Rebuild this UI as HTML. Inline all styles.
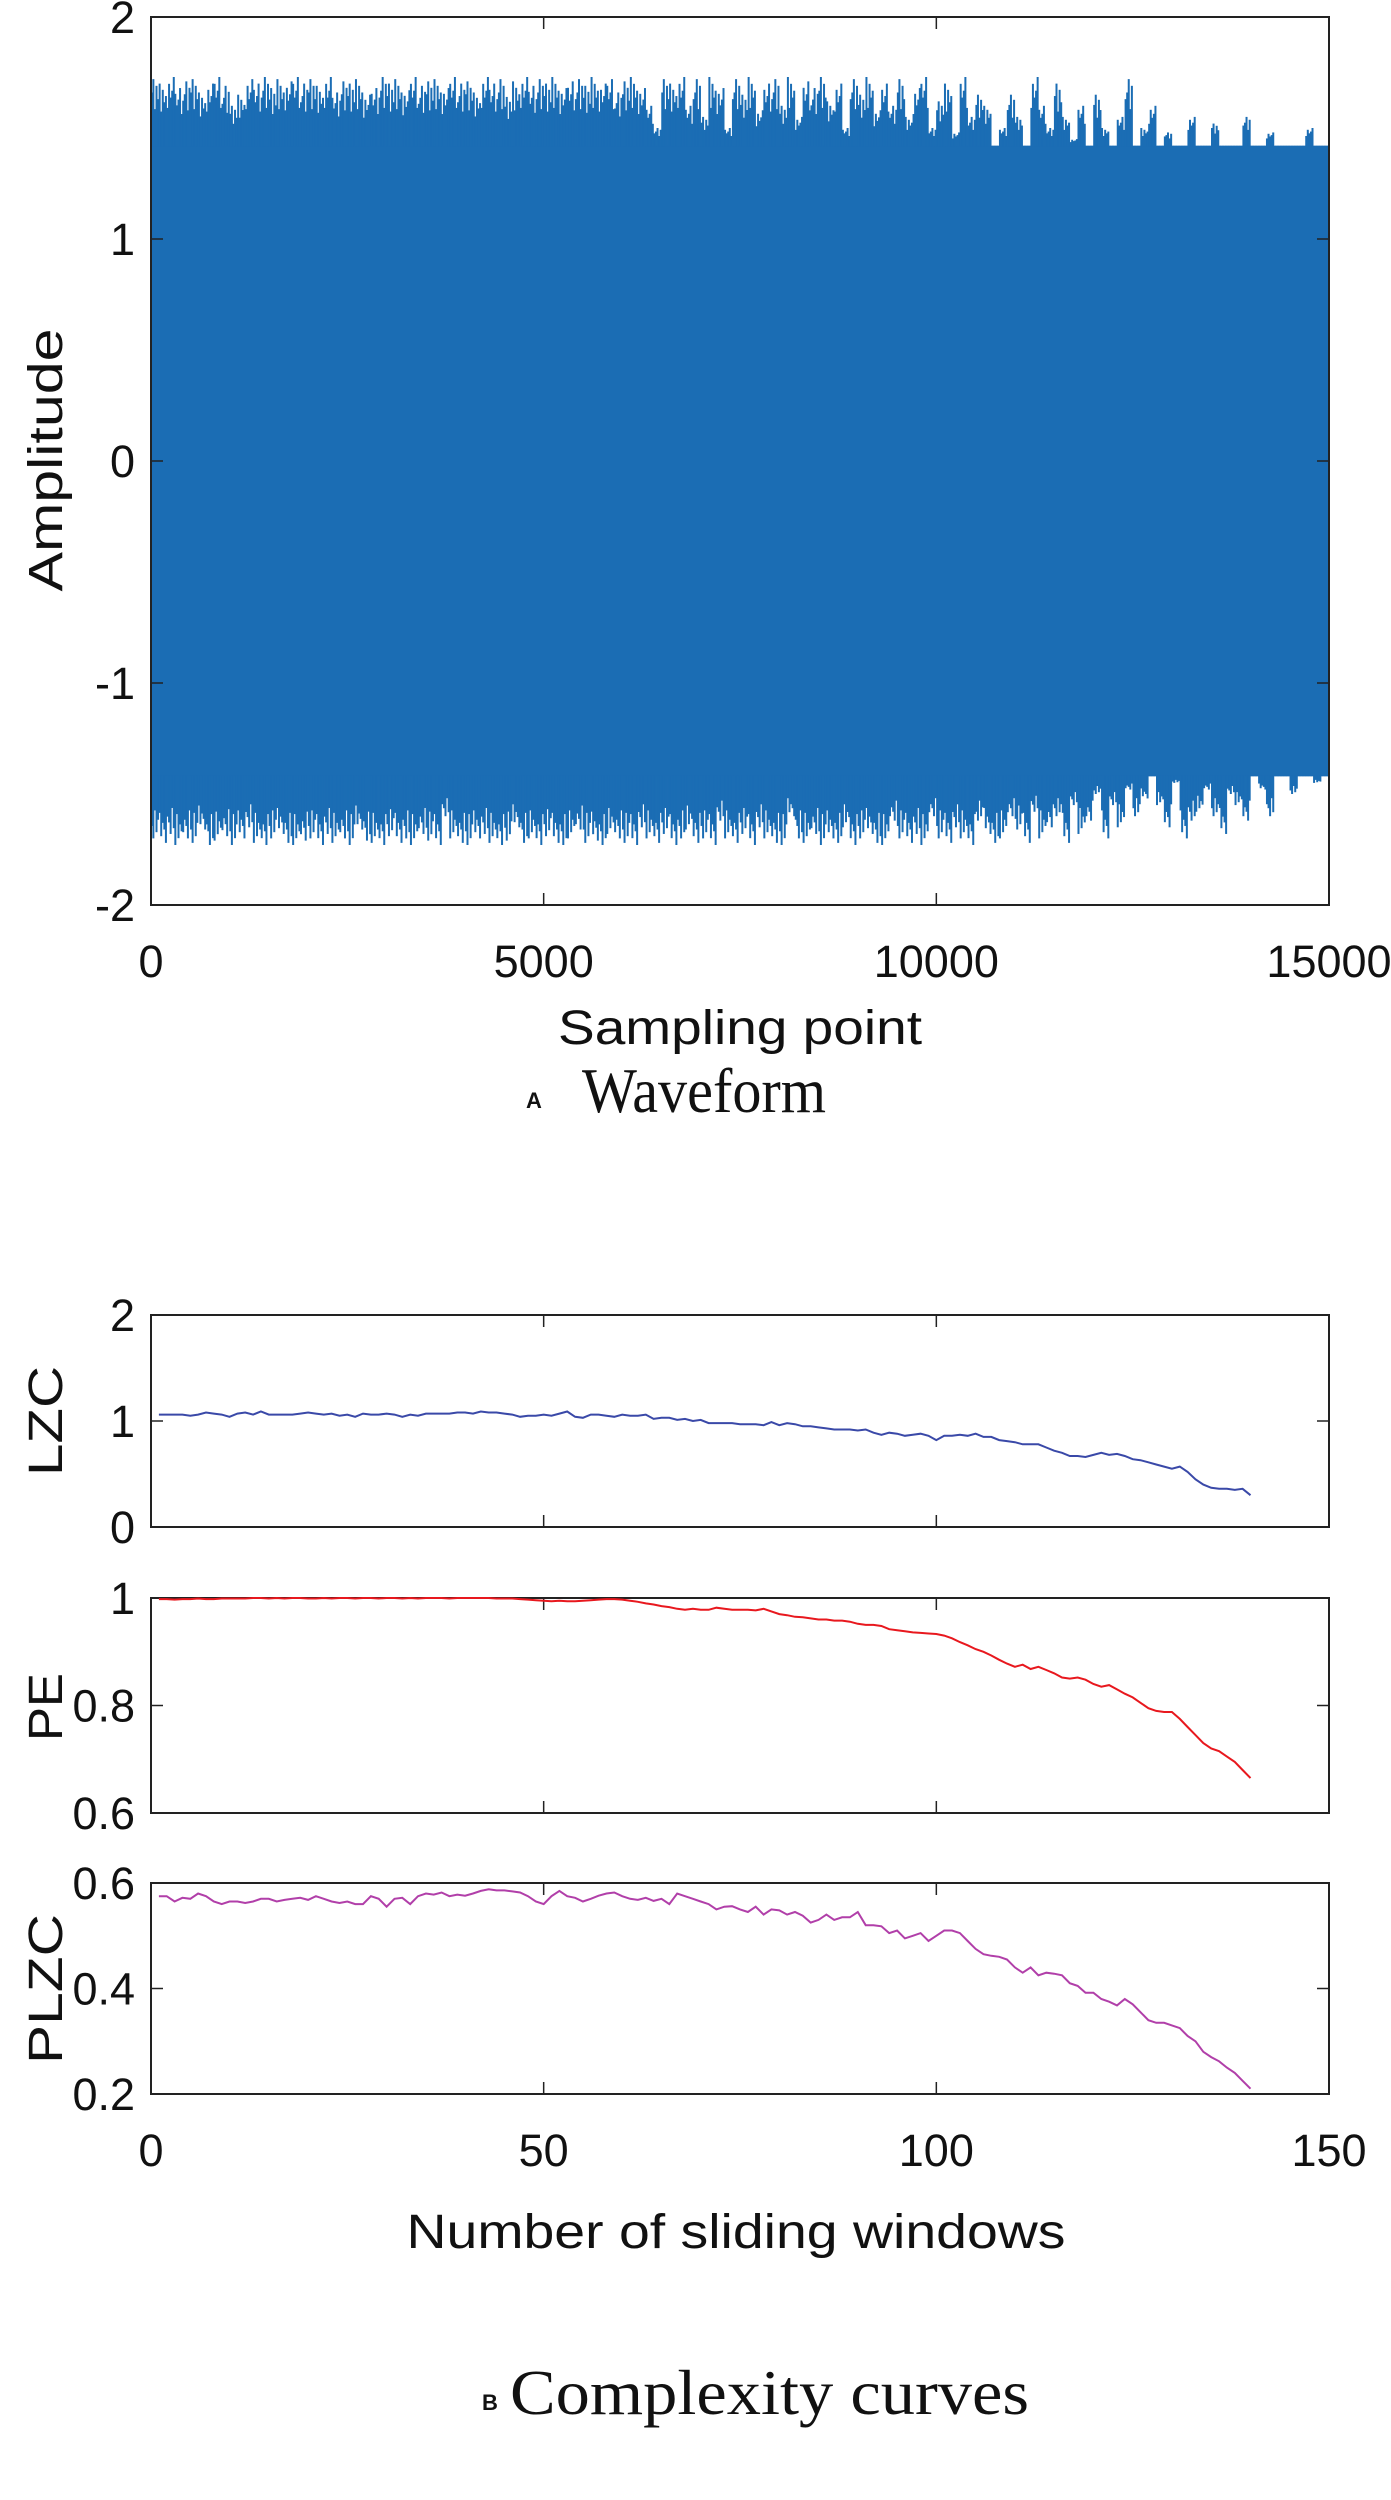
<!DOCTYPE html>
<html><head><meta charset="utf-8"><style>
html,body{margin:0;padding:0;background:#fff}
svg{display:block}
text{font-family:"Liberation Sans",Arial,sans-serif;fill:#111}
.serif{font-family:"Liberation Serif","Times New Roman",serif}
</style></head><body>
<svg id="fig" width="1391" height="2500" viewBox="0 0 1391 2500" xmlns="http://www.w3.org/2000/svg"></svg>
<script>
// ---- Waveform data (peak amplitude per 100-sample bin) ----
const waveBinSize = 100;
const waveTopPeaks = [1.72,1.70,1.73,1.68,1.71,1.72,1.66,1.70,1.73,1.69,1.60,1.65,1.72,1.70,1.73,1.68,1.72,1.71,1.73,1.70,1.72,1.69,1.73,1.66,1.71,1.70,1.72,1.65,1.68,1.73,1.70,1.72,1.67,1.73,1.69,1.71,1.72,1.68,1.73,1.70,1.71,1.66,1.73,1.70,1.72,1.64,1.71,1.73,1.69,1.72,1.70,1.73,1.68,1.71,1.72,1.69,1.73,1.70,1.72,1.66,1.71,1.73,1.68,1.60,1.50,1.72,1.70,1.73,1.60,1.72,1.55,1.73,1.68,1.50,1.72,1.65,1.73,1.58,1.70,1.72,1.60,1.73,1.55,1.71,1.68,1.73,1.62,1.70,1.50,1.72,1.65,1.73,1.58,1.70,1.60,1.72,1.55,1.68,1.73,1.50,1.62,1.70,1.48,1.73,1.55,1.65,1.60,1.42,1.50,1.65,1.55,1.42,1.73,1.60,1.50,1.70,1.55,1.45,1.60,1.42,1.65,1.50,1.42,1.55,1.72,1.42,1.50,1.60,1.42,1.48,1.42,1.42,1.55,1.42,1.42,1.52,1.42,1.42,1.42,1.55,1.42,1.42,1.48,1.42,1.42,1.42,1.42,1.50,1.42,1.42];
const waveBottomPeaks = [1.70,1.72,1.68,1.73,1.70,1.72,1.66,1.73,1.71,1.69,1.73,1.70,1.65,1.72,1.73,1.70,1.68,1.72,1.73,1.71,1.70,1.73,1.68,1.72,1.70,1.73,1.66,1.71,1.72,1.73,1.69,1.72,1.70,1.73,1.68,1.71,1.73,1.60,1.70,1.72,1.73,1.70,1.68,1.72,1.73,1.71,1.65,1.72,1.70,1.73,1.69,1.72,1.73,1.70,1.66,1.72,1.71,1.73,1.68,1.70,1.72,1.73,1.65,1.70,1.72,1.68,1.73,1.70,1.66,1.72,1.70,1.73,1.62,1.70,1.72,1.68,1.73,1.65,1.70,1.72,1.73,1.60,1.70,1.72,1.68,1.73,1.70,1.72,1.65,1.73,1.70,1.68,1.72,1.73,1.62,1.70,1.72,1.68,1.73,1.60,1.70,1.72,1.65,1.70,1.73,1.62,1.68,1.72,1.70,1.60,1.66,1.72,1.58,1.70,1.65,1.60,1.72,1.55,1.68,1.62,1.50,1.70,1.55,1.65,1.48,1.60,1.52,1.42,1.55,1.65,1.45,1.70,1.62,1.58,1.48,1.60,1.68,1.50,1.55,1.62,1.42,1.48,1.60,1.42,1.42,1.50,1.42,1.42,1.45,1.42];
const waveBand = 1.42;
const waveXTicks = [0,5000,10000,15000];
const waveYTicks = [-2,-1,0,1,2];
// ---- Complexity curves (windows 1..140) ----
const lzcValues = [1.06,1.06,1.06,1.06,1.05,1.06,1.08,1.07,1.06,1.04,1.07,1.08,1.06,1.09,1.06,1.06,1.06,1.06,1.07,1.08,1.07,1.06,1.07,1.05,1.06,1.04,1.07,1.06,1.06,1.07,1.06,1.04,1.06,1.05,1.07,1.07,1.07,1.07,1.08,1.08,1.07,1.09,1.08,1.08,1.07,1.06,1.04,1.05,1.05,1.06,1.05,1.07,1.09,1.04,1.03,1.06,1.06,1.05,1.04,1.06,1.05,1.05,1.06,1.02,1.03,1.03,1.01,1.02,1.00,1.01,0.98,0.98,0.98,0.98,0.97,0.97,0.97,0.96,0.99,0.96,0.98,0.97,0.95,0.95,0.94,0.93,0.92,0.92,0.92,0.91,0.92,0.89,0.87,0.89,0.88,0.86,0.87,0.88,0.86,0.82,0.86,0.86,0.87,0.86,0.88,0.85,0.85,0.82,0.81,0.80,0.78,0.78,0.78,0.75,0.72,0.70,0.67,0.67,0.66,0.68,0.70,0.68,0.69,0.67,0.64,0.63,0.61,0.59,0.57,0.55,0.57,0.52,0.45,0.40,0.37,0.36,0.36,0.35,0.36,0.30];
const peValues = [0.998,0.998,0.997,0.998,0.998,0.999,0.998,0.998,0.999,0.999,0.999,0.999,1.0,1.0,0.999,1.0,0.999,1.0,1.0,0.999,0.999,1.0,0.999,1.0,1.0,0.999,1.0,1.0,0.999,1.0,1.0,0.999,1.0,0.999,1.0,1.0,1.0,0.999,1.0,1.0,1.0,1.0,1.0,0.999,0.999,0.999,0.998,0.997,0.996,0.995,0.994,0.995,0.994,0.994,0.995,0.996,0.997,0.998,0.998,0.997,0.995,0.993,0.99,0.988,0.985,0.983,0.98,0.978,0.98,0.978,0.978,0.982,0.98,0.978,0.978,0.978,0.977,0.98,0.975,0.97,0.968,0.965,0.964,0.962,0.96,0.96,0.958,0.958,0.956,0.952,0.95,0.95,0.948,0.942,0.94,0.938,0.936,0.935,0.934,0.933,0.93,0.925,0.918,0.912,0.905,0.9,0.893,0.885,0.878,0.872,0.876,0.868,0.872,0.866,0.86,0.852,0.85,0.852,0.848,0.84,0.835,0.838,0.83,0.822,0.815,0.805,0.795,0.79,0.788,0.788,0.775,0.76,0.745,0.73,0.72,0.715,0.705,0.695,0.68,0.665];
const plzcValues = [0.575,0.575,0.565,0.572,0.57,0.58,0.575,0.565,0.56,0.565,0.565,0.562,0.565,0.57,0.57,0.565,0.568,0.57,0.572,0.568,0.575,0.57,0.565,0.562,0.565,0.56,0.56,0.575,0.57,0.555,0.57,0.572,0.56,0.575,0.58,0.578,0.582,0.575,0.578,0.576,0.58,0.585,0.588,0.586,0.586,0.584,0.582,0.575,0.565,0.56,0.575,0.585,0.575,0.572,0.565,0.57,0.576,0.58,0.582,0.575,0.57,0.568,0.572,0.566,0.57,0.56,0.58,0.575,0.57,0.565,0.56,0.55,0.555,0.556,0.55,0.545,0.555,0.54,0.55,0.548,0.54,0.545,0.538,0.525,0.53,0.54,0.53,0.535,0.535,0.545,0.52,0.52,0.518,0.505,0.51,0.495,0.5,0.505,0.49,0.5,0.51,0.51,0.505,0.49,0.475,0.465,0.462,0.46,0.455,0.44,0.43,0.44,0.425,0.43,0.428,0.425,0.41,0.405,0.392,0.392,0.38,0.375,0.368,0.38,0.37,0.355,0.34,0.335,0.335,0.33,0.325,0.31,0.3,0.28,0.27,0.262,0.25,0.24,0.225,0.21];
const cxTicks = [0,50,100,150];
const lzcTicks = [0,1,2];
const peTicks = [0.6,0.8,1];
const plzcTicks = [0.2,0.4,0.6];

const NS = "http://www.w3.org/2000/svg";
const svg = document.getElementById('fig');
function mk(tag, attrs, parent) {
  const e = document.createElementNS(NS, tag);
  for (const k in attrs) e.setAttribute(k, attrs[k]);
  (parent || svg).appendChild(e);
  return e;
}
function txt(s, attrs, parent) { const t = mk('text', attrs, parent); t.textContent = s; return t; }

const L = 151, R = 1329;

function axesBox(g, top, bot, xs, ys, xTicks, yTicks, showXLabels, fmtY) {
  const box = mk('rect', {x:L, y:top, width:R-L, height:bot-top, fill:'none', stroke:'#222', 'stroke-width':2}, g);
  
  
  xTicks.forEach(v => {
    const x = xs(v);
    mk('line', {x1:x, x2:x, y1:bot, y2:bot-12, stroke:'#222', 'stroke-width':1.5}, g);
    mk('line', {x1:x, x2:x, y1:top, y2:top+12, stroke:'#222', 'stroke-width':1.5}, g);
    if (showXLabels) {
      const t = txt(String(v), {x:x, y:bot+72, 'font-size':45, 'text-anchor':'middle'}, g);
      
      
    }
  });
  yTicks.forEach(v => {
    const y = ys(v);
    mk('line', {x1:L, x2:L+12, y1:y, y2:y, stroke:'#222', 'stroke-width':1.5}, g);
    mk('line', {x1:R, x2:R-12, y1:y, y2:y, stroke:'#222', 'stroke-width':1.5}, g);
    const t = txt(fmtY(v), {x:L-16, y:y+16, 'font-size':45, 'text-anchor':'end'}, g);
    
    
  });
}
function yLabel(s, cx, cy, len, name) {
  const t = txt(s, {x:0, y:0, 'font-size':48, 'text-anchor':'middle', transform:`translate(${cx},${cy}) rotate(-90)`, textLength:len, lengthAdjust:'spacingAndGlyphs'});
  
  
}

// ---------- Panel A: Waveform ----------
const gA = mk('g', {});


const aTop = 17, aBot = 905;
const wx = v => L + (v / 15000) * (R - L);
const wy = v => aTop + (2 - v) / 4 * (aBot - aTop);
const band = mk('rect', {x:L, y:wy(waveBand), width:R-L, height:wy(-waveBand)-wy(waveBand), fill:'#1b6db4'}, gA);


const spikes = mk('g', {stroke:'#1b6db4', 'stroke-width':2}, gA);


const subOffsets = [10, 30, 50, 70, 90];
const subScale = [0.8, 1, 0.55, 0.9, 0.7];
waveTopPeaks.forEach((p, i) => {
  subOffsets.forEach((o, k) => {
    const x = wx(i * waveBinSize + o);
    const l = mk('line', {x1:x, x2:x, y1:wy(waveBand)+1, y2:wy(waveBand + (p - waveBand) * subScale[(k + i) % 5])}, spikes);
    
    
  });
});
waveBottomPeaks.forEach((p, i) => {
  subOffsets.forEach((o, k) => {
    const x = wx(i * waveBinSize + o);
    const l = mk('line', {x1:x, x2:x, y1:wy(-waveBand)-1, y2:wy(-(waveBand + (p - waveBand) * subScale[(k + 2 * i) % 5]))}, spikes);
    
    
  });
});
axesBox(gA, aTop, aBot, wx, wy, waveXTicks, waveYTicks, true, v => String(v));
const xlA = txt('Sampling point', {x:740, y:1044, 'font-size':48, 'text-anchor':'middle', textLength:364, lengthAdjust:'spacingAndGlyphs'});


yLabel('Amplitude', 62, 460, 263, 'y-axis-title');
const capA = mk('g', {});


txt('A', {x:534, y:1108, 'font-size':22, 'font-weight':'bold', 'text-anchor':'middle'}, capA);
txt('Waveform', {x:582, y:1112, 'font-size':64, class:'serif', textLength:244, lengthAdjust:'spacingAndGlyphs'}, capA);

// ---------- Panel B: Complexity curves ----------
const cx = v => L + (v / 150) * (R - L);
function curvePanel(name, vals, ticks, lo, hi, top, bot, color, showX, fmt) {
  const g = mk('g', {});
  
  
  const ys = v => top + (hi - v) / (hi - lo) * (bot - top);
  axesBox(g, top, bot, cx, ys, cxTicks, ticks, showX, fmt);
  const d = vals.map((v, i) => (i ? 'L' : 'M') + cx(i + 1).toFixed(1) + ' ' + ys(v).toFixed(1)).join(' ');
  const p = mk('path', {d:d, fill:'none', stroke:color, 'stroke-width':2}, g);
  
  
}
curvePanel('lzc', lzcValues, lzcTicks, 0, 2, 1315, 1527, '#3a49a8', false, v => String(v));
curvePanel('pe', peValues, peTicks, 0.6, 1, 1598, 1813, '#e8181e', false, v => String(v));
curvePanel('plzc', plzcValues, plzcTicks, 0.2, 0.6, 1883, 2094, '#b13fa9', true, v => String(v));
yLabel('LZC', 62, 1421, 110, 'lzc-axis-title');
yLabel('PE', 62, 1707, 68, 'pe-axis-title');
yLabel('PLZC', 62, 1989, 150, 'plzc-axis-title');
const xlB = txt('Number of sliding windows', {x:736, y:2248, 'font-size':48, 'text-anchor':'middle', textLength:659, lengthAdjust:'spacingAndGlyphs'});


const capB = mk('g', {});


txt('B', {x:490, y:2410, 'font-size':22, 'font-weight':'bold', 'text-anchor':'middle'}, capB);
txt('Complexity curves', {x:510, y:2414, 'font-size':64, class:'serif', textLength:519, lengthAdjust:'spacingAndGlyphs'}, capB);
</script>
</body></html>
